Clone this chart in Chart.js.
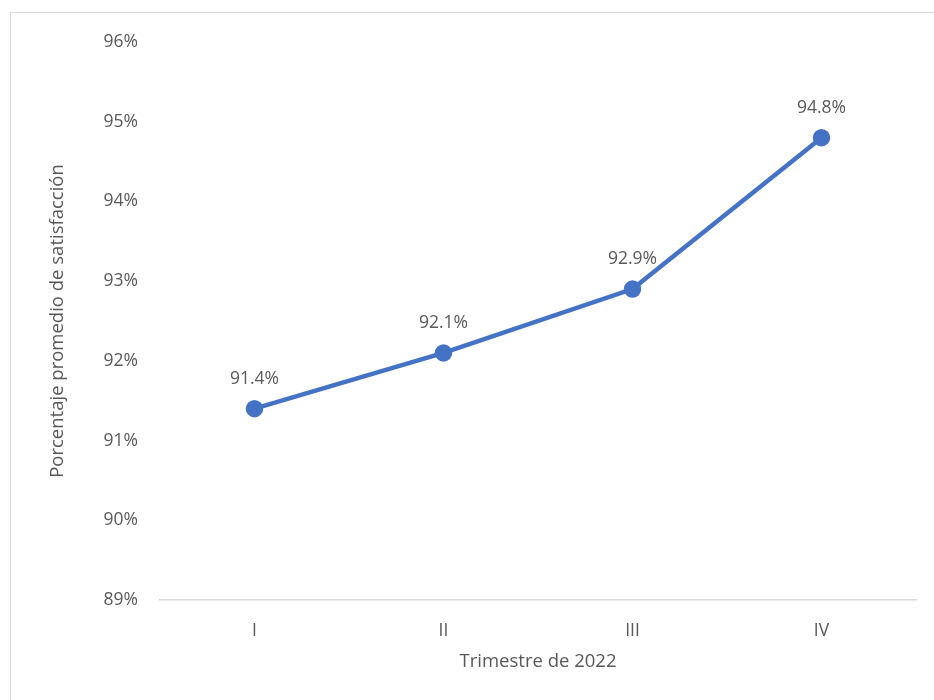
<!DOCTYPE html>
<html>
<head>
<meta charset="utf-8">
<script src="https://cdn.jsdelivr.net/npm/chart.js@4/dist/chart.umd.min.js"></script>
<style>
  html, body { margin: 0; padding: 0; background: #fff; overflow: hidden; }
  #frame { position: absolute; left: 10px; top: 12px; width: 1000px; height: 1000px; border: 1.5px solid #d9d9d9; }
  #wrap { position: absolute; left: 0; top: 0; width: 934px; height: 700px; }
</style>
</head>
<body>
<div id="frame"></div>
<div id="wrap"><canvas id="myChart"></canvas></div>
<script>
var quarters = ["I", "II", "III", "IV"]
var satisfaction = [91.4, 92.1, 92.9, 94.8]
var yMin = 89
var yMax = 96

var textColor = '#595959'
var fontFamily = '"Open Sans", "Noto Sans", sans-serif'
var fontSize = 17.5
var titleSize = 18.5

// labels above each point
var pointLabels = {
    id: 'pointLabels',
    afterDatasetsDraw: function(chart) {
        var ctx = chart.ctx;
        var meta = chart.getDatasetMeta(0);
        ctx.save();
        ctx.font = fontSize + 'px ' + fontFamily;
        ctx.fillStyle = textColor;
        ctx.textAlign = 'center';
        ctx.textBaseline = 'middle';
        meta.data.forEach(function(pt, i) {
            ctx.fillText(satisfaction[i].toFixed(1) + '%', pt.x, pt.y - 30);
        });
        ctx.restore();
    }
};

var ctx = document.getElementById('myChart').getContext('2d');

var chart = new Chart(ctx, {
    type: 'line',
    data: {
        labels: quarters,
        datasets: [{
            label: 'Satisfacción',
            data: satisfaction,
            borderColor: '#4472C4',
            backgroundColor: '#4472C4',
            borderWidth: 4.5,
            pointRadius: 6.5,
            pointHoverRadius: 6.5,
            tension: 0
        }]
    },
    options: {
        responsive: true,
        maintainAspectRatio: false,
        animation: false,
        layout: { padding: { left: 43, top: 42, right: 18, bottom: 20 } },
        plugins: {
            legend: { display: false },
            tooltip: { enabled: false }
        },
        scales: {
            x: {
                offset: true,
                grid: { display: false },
                border: { display: true, color: '#d9d9d9', width: 1.5 },
                ticks: { color: textColor, font: { family: fontFamily, size: fontSize }, padding: 13 },
                title: {
                    display: true,
                    text: 'Trimestre de 2022',
                    color: textColor,
                    font: { family: fontFamily, size: titleSize },
                    padding: { top: 4, bottom: 7 }
                },
                afterFit: function(scale) { scale.height = 80; }
            },
            y: {
                min: yMin,
                max: yMax,
                grid: { display: false },
                border: { display: false },
                ticks: {
                    stepSize: 1,
                    color: textColor,
                    font: { family: fontFamily, size: fontSize },
                    padding: 14,
                    callback: function(v) { return v + '%'; }
                },
                title: {
                    display: true,
                    text: 'Porcentaje promedio de satisfacción',
                    color: textColor,
                    font: { family: fontFamily, size: titleSize },
                    padding: { top: 4, bottom: 4 }
                },
                afterFit: function(scale) { scale.width = 117; }
            }
        }
    },
    plugins: [pointLabels]
});
</script>
</body>
</html>
